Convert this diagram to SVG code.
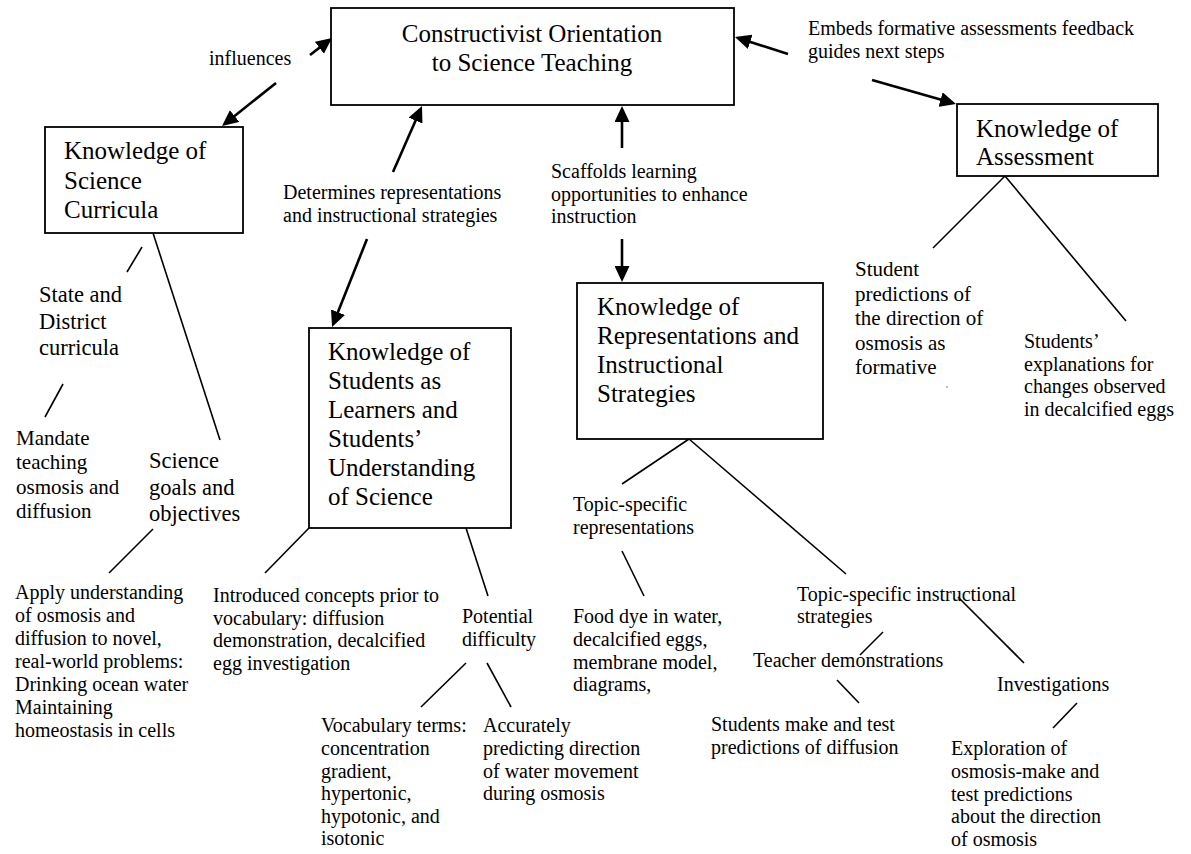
<svg xmlns="http://www.w3.org/2000/svg" width="1191" height="854" viewBox="0 0 1191 854" font-family="'Liberation Serif', 'Times New Roman', Times, 'DejaVu Serif', serif">
<style>
text{font-family:'Liberation Serif','Times New Roman',Times,'DejaVu Serif',serif;fill:#000}
.n{font-size:25px}
.l{font-size:20px}
.m{font-size:21px}
.b{font-size:22.5px}
.box{fill:#fff;stroke:#000;stroke-width:1.8}
.c{stroke:#000;stroke-width:1.6;fill:none}
.a{stroke:#000;stroke-width:2.6;fill:none;marker-end:url(#ah)}
</style>
<defs>
<marker id="ah" viewBox="0 0 16 15" refX="8" refY="7.5" markerWidth="16" markerHeight="15" markerUnits="userSpaceOnUse" orient="auto">
<path d="M0,0 L16,7.5 L0,15 z" fill="#000"/>
</marker>
</defs>
<rect width="1191" height="854" fill="#fff"/>

<g id="connectors">
<line class="a" x1="310" y1="55" x2="325.7" y2="42.9"/>
<line class="a" x1="276" y1="83" x2="228.3" y2="121"/>
<line class="a" x1="393" y1="172" x2="418.8" y2="113.3"/>
<line class="a" x1="367" y1="239" x2="335" y2="319.6"/>
<line class="a" x1="622" y1="148" x2="622" y2="114"/>
<line class="a" x1="622" y1="239" x2="622" y2="274"/>
<line class="a" x1="788" y1="54" x2="742.6" y2="39.4"/>
<line class="a" x1="872" y1="80" x2="948.3" y2="101.8"/>

<line class="c" x1="142" y1="247" x2="127" y2="272"/>
<line class="c" x1="153" y1="233" x2="220" y2="440"/>
<line class="c" x1="63" y1="384" x2="45" y2="417"/>
<line class="c" x1="153" y1="529" x2="109" y2="573"/>
<line class="c" x1="309" y1="528" x2="265" y2="573"/>
<line class="c" x1="466" y1="528" x2="488" y2="596"/>
<line class="c" x1="466" y1="663" x2="421" y2="707"/>
<line class="c" x1="487" y1="663" x2="511" y2="707"/>
<line class="c" x1="689" y1="439" x2="622" y2="484"/>
<line class="c" x1="689" y1="439" x2="846" y2="574"/>
<line class="c" x1="622" y1="551" x2="644" y2="596"/>
<line class="c" x1="883" y1="632" x2="860" y2="655"/>
<line class="c" x1="837" y1="680" x2="859" y2="703"/>
<line class="c" x1="958" y1="597" x2="1024" y2="663"/>
<line class="c" x1="1077" y1="703" x2="1053" y2="728"/>
<line class="c" x1="1005" y1="176" x2="933" y2="248"/>
<line class="c" x1="1005" y1="176" x2="1126" y2="321"/>
</g>

<g id="orientation">
<rect class="box" x="331" y="8" width="403" height="97"/>
<text class="n" x="532" y="41.5" text-anchor="middle">Constructivist Orientation</text>
<text class="n" x="532" y="71" text-anchor="middle">to Science Teaching</text>
</g>

<g id="curricula">
<rect class="box" x="45" y="127" width="198" height="106"/>
<text class="n" x="64" y="159">Knowledge of</text>
<text class="n" x="64" y="188.5">Science</text>
<text class="n" x="64" y="218">Curricula</text>
</g>

<g id="students">
<rect class="box" x="309" y="328" width="202" height="200"/>
<text class="n" x="328" y="360">Knowledge of</text>
<text class="n" x="328" y="389">Students as</text>
<text class="n" x="328" y="418">Learners and</text>
<text class="n" x="328" y="447">Students’</text>
<text class="n" x="328" y="476">Understanding</text>
<text class="n" x="328" y="505">of Science</text>
</g>

<g id="representations">
<rect class="box" x="577" y="283" width="246" height="156"/>
<text class="n" x="597" y="315">Knowledge of</text>
<text class="n" x="597" y="344">Representations and</text>
<text class="n" x="597" y="373">Instructional</text>
<text class="n" x="597" y="402">Strategies</text>
</g>

<g id="assessment">
<rect class="box" x="957" y="104" width="201" height="72"/>
<text class="n" x="976" y="137">Knowledge of</text>
<text class="n" x="976" y="165">Assessment</text>
</g>

<g id="label-influences"><text class="l" x="209" y="65">influences</text></g>
<g id="label-determines">
<text class="l" x="283" y="199">Determines representations</text>
<text class="l" x="283" y="222">and instructional strategies</text>
</g>
<g id="label-scaffolds">
<text class="l" x="551" y="178">Scaffolds learning</text>
<text class="l" x="551" y="200.5">opportunities to enhance</text>
<text class="l" x="551" y="223">instruction</text>
</g>
<g id="label-embeds">
<text class="l" x="808" y="35">Embeds formative assessments feedback</text>
<text class="l" x="808" y="58">guides next steps</text>
</g>

<g id="state">
<text class="b" x="39" y="302">State and</text>
<text class="b" x="39" y="328.5">District</text>
<text class="b" x="39" y="355">curricula</text>
</g>
<g id="mandate">
<text class="m" x="16" y="445">Mandate</text>
<text class="m" x="16" y="469.3">teaching</text>
<text class="m" x="16" y="493.6">osmosis and</text>
<text class="m" x="16" y="518">diffusion</text>
</g>
<g id="goals">
<text class="b" x="149" y="468">Science</text>
<text class="b" x="149" y="494.5">goals and</text>
<text class="b" x="149" y="521">objectives</text>
</g>
<g id="apply">
<text class="l" x="15" y="599">Apply understanding</text>
<text class="l" x="15" y="622">of osmosis and</text>
<text class="l" x="15" y="645">diffusion to novel,</text>
<text class="l" x="15" y="668">real-world problems:</text>
<text class="l" x="15" y="691">Drinking ocean water</text>
<text class="l" x="15" y="714">Maintaining</text>
<text class="l" x="15" y="737">homeostasis in cells</text>
</g>
<g id="introduced">
<text class="l" x="213" y="602">Introduced concepts prior to</text>
<text class="l" x="213" y="624.5">vocabulary: diffusion</text>
<text class="l" x="213" y="647">demonstration, decalcified</text>
<text class="l" x="213" y="669.5">egg investigation</text>
</g>
<g id="potential">
<text class="l" x="462" y="623">Potential</text>
<text class="l" x="462" y="646">difficulty</text>
</g>
<g id="vocabulary">
<text class="l" x="321" y="732">Vocabulary terms:</text>
<text class="l" x="321" y="755">concentration</text>
<text class="l" x="321" y="777.5">gradient,</text>
<text class="l" x="321" y="800">hypertonic,</text>
<text class="l" x="321" y="822.5">hypotonic, and</text>
<text class="l" x="321" y="845">isotonic</text>
</g>
<g id="accurately">
<text class="l" x="483" y="732">Accurately</text>
<text class="l" x="483" y="755">predicting direction</text>
<text class="l" x="483" y="777.5">of water movement</text>
<text class="l" x="483" y="800">during osmosis</text>
</g>
<g id="topic-rep">
<text class="l" x="573" y="511">Topic-specific</text>
<text class="l" x="573" y="534">representations</text>
</g>
<g id="food-dye">
<text class="l" x="573" y="623">Food dye in water,</text>
<text class="l" x="573" y="646">decalcified eggs,</text>
<text class="l" x="573" y="668.5">membrane model,</text>
<text class="l" x="573" y="691">diagrams,</text>
</g>
<g id="topic-instr">
<text class="l" x="797" y="601">Topic-specific instructional</text>
<text class="l" x="797" y="623">strategies</text>
</g>
<g id="teacher"><text class="l" x="753" y="667">Teacher demonstrations</text></g>
<g id="students-make">
<text class="l" x="711" y="731">Students make and test</text>
<text class="l" x="711" y="754">predictions of diffusion</text>
</g>
<g id="investigations"><text class="l" x="997" y="691">Investigations</text></g>
<g id="exploration">
<text class="l" x="951" y="755">Exploration of</text>
<text class="l" x="951" y="778">osmosis-make and</text>
<text class="l" x="951" y="800.5">test predictions</text>
<text class="l" x="951" y="823">about the direction</text>
<text class="l" x="951" y="846">of osmosis</text>
</g>
<g id="student-predictions">
<text class="m" x="855" y="276">Student</text>
<text class="m" x="855" y="300.5">predictions of</text>
<text class="m" x="855" y="325">the direction of</text>
<text class="m" x="855" y="349.5">osmosis as</text>
<text class="m" x="855" y="374">formative</text>
<circle cx="947" cy="387" r="0.7" fill="#555"/>
</g>
<g id="students-explanations">
<text class="l" x="1024" y="348">Students’</text>
<text class="l" x="1024" y="370.5">explanations for</text>
<text class="l" x="1024" y="393">changes observed</text>
<text class="l" x="1024" y="415.5">in decalcified eggs</text>
</g>
</svg>
